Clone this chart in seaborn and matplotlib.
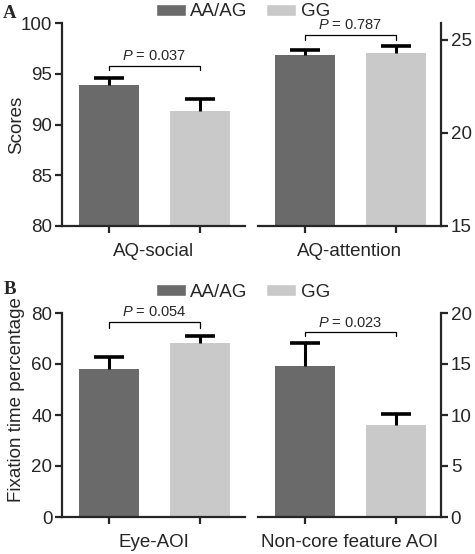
import numpy as np
import pandas as pd
import matplotlib
matplotlib.use("Agg")
import matplotlib.pyplot as plt
import seaborn as sns
from matplotlib.patches import Patch

# data (mean, SEM)
groups = ["AA/AG", "GG"]
aq_social_mean = [93.9, 91.3]
aq_social_sem = [0.72, 1.2]
aq_attention_mean = [24.2, 24.3]
aq_attention_sem = [0.27, 0.35]
eye_aoi_mean = [57.9, 68.2]
eye_aoi_sem = [4.8, 2.8]
noncore_mean = [14.8, 9.0]
noncore_sem = [2.25, 1.05]
p_values = ["0.037", "0.787", "0.054", "0.023"]

dark = "#6a6a6a"
light = "#c9c9c9"
palette = {"AA/AG": dark, "GG": light}

sns.set_style("ticks")
plt.rcParams["font.family"] = ["Liberation Sans", "DejaVu Sans"]
plt.rcParams["mathtext.fontset"] = "custom"
plt.rcParams["mathtext.it"] = "Liberation Sans:italic"
plt.rcParams["mathtext.rm"] = "Liberation Sans"

W, H = 475, 554
fig = plt.figure(figsize=(W / 100, H / 100), dpi=100)


def px_axes(x0, x1, ytop, ybot):
    return fig.add_axes([x0 / W, 1 - ybot / H, (x1 - x0) / W, (ybot - ytop) / H])


def draw_panel(ax, means, sems, side, ylim, yticks, xlabel, br_y, br_leg, p):
    df = pd.DataFrame({"group": groups, "value": means})
    sns.barplot(data=df, x="group", y="value", hue="group", palette=palette,
                width=0.66, saturation=1, linewidth=0, legend=False, ax=ax)
    eb = ax.errorbar([0, 1], means, yerr=[[0, 0], sems], fmt="none", ecolor="black",
                     elinewidth=2.2, capsize=10.8, capthick=2.6, zorder=3)
    eb[1][0].set_visible(False)
    ax.set_xlim(-0.52, 1.50)
    ax.set_ylim(*ylim)
    ax.set_yticks(yticks)
    ax.set_xticks([0, 1])
    ax.tick_params(axis="x", labelbottom=False, length=5, width=1.6)
    ax.tick_params(axis="y", labelsize=13.5, length=5, width=1.6, pad=2)
    for s in ax.spines.values():
        s.set_linewidth(1.6)
    ax.spines["top"].set_visible(False)
    if side == "left":
        ax.spines["right"].set_visible(False)
    else:
        ax.spines["left"].set_visible(False)
        ax.yaxis.tick_right()
    ax.set_xlabel(xlabel, fontsize=13.5, labelpad=7)
    ax.set_ylabel("")
    ax.plot([0, 0, 1, 1], [br_leg, br_y, br_y, br_leg], color="black", lw=0.9, clip_on=False)
    ax.annotate(f"$P$ = {p}", xy=(0.5, br_y), xytext=(0, 2), textcoords="offset points",
                ha="center", va="bottom", fontsize=10.5, annotation_clip=False)


# panel A
axA1 = px_axes(62, 245, 23, 226)
axA2 = px_axes(258, 441, 23, 226)
draw_panel(axA1, aq_social_mean, aq_social_sem, "left", (80, 100), [80, 85, 90, 95, 100],
           "AQ-social", 95.8, 95.35, p_values[0])
draw_panel(axA2, aq_attention_mean, aq_attention_sem, "right", (15, 25.91), [15, 20, 25],
           "AQ-attention", 25.27, 25.0, p_values[1])
axA1.set_ylabel("Scores", fontsize=13.5)
axA1.yaxis.set_label_coords(-0.20, 0.5)

# panel B
axB1 = px_axes(62, 245, 313, 517)
axB2 = px_axes(258, 441, 313, 517)
draw_panel(axB1, eye_aoi_mean, eye_aoi_sem, "left", (0, 80), [0, 20, 40, 60, 80],
           "Eye-AOI", 76.5, 74.0, p_values[2])
draw_panel(axB2, noncore_mean, noncore_sem, "right", (0, 20), [0, 5, 10, 15, 20],
           "Non-core feature AOI", 18.1, 17.75, p_values[3])
axB1.set_ylabel("Fixation time percentage", fontsize=13.5)
axB1.yaxis.set_label_coords(-0.20, 0.574)

handles = [Patch(facecolor=dark, label="AA/AG"), Patch(facecolor=light, label="GG")]
for yc in (12, 292):
    fig.legend(handles=handles, loc="center", bbox_to_anchor=(243 / W, 1 - yc / H), ncol=2,
               frameon=False, fontsize=13.5, handlelength=1.6, handleheight=0.55,
               handletextpad=0.25, columnspacing=1.0, borderpad=0, borderaxespad=0)

fig.text(10 / W, 1 - 13 / H, "A", family="Liberation Serif", weight="bold", fontsize=13.5,
         ha="center", va="center")
fig.text(10 / W, 1 - 290 / H, "B", family="Liberation Serif", weight="bold", fontsize=13.5,
         ha="center", va="center")

fig.savefig("out.png", dpi=100)
